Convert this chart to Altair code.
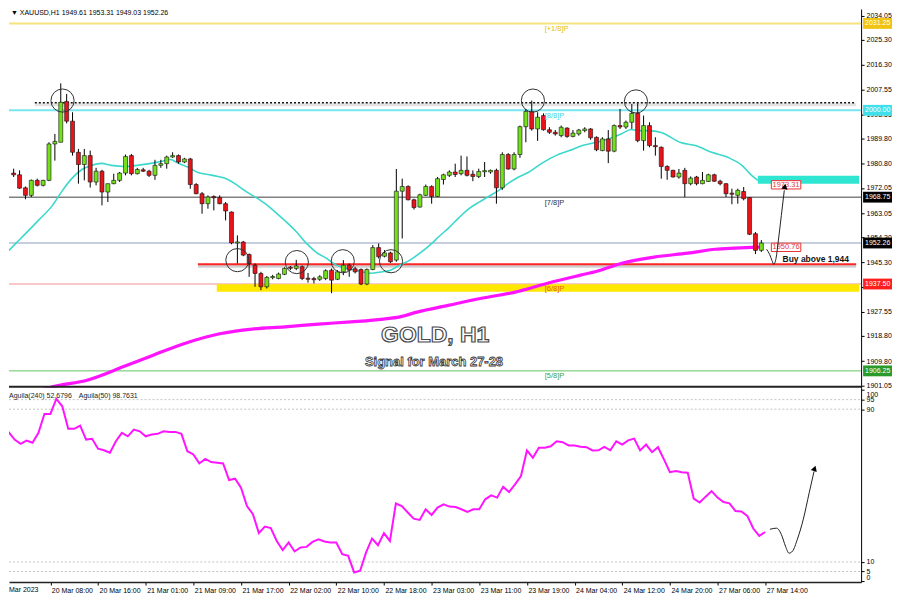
import altair as alt
import pandas as pd

# ---------------- data ----------------
candle_idx = list(range(1, 129))
opens = [1977.4, 1976.8, 1972.1, 1969.4, 1974.8, 1973.0, 1974.8, 1987.9, 1988.5, 2003.2,
         1996.1, 1984.9, 1980.5, 1983.7, 1974.2, 1978.1, 1970.6, 1973.6, 1974.8, 1977.4,
         1983.7, 1977.2, 1978.6, 1978.1, 1976.6, 1980.2, 1980.8, 1983.2, 1983.7, 1981.4,
         1982.5, 1973.3, 1970.0, 1966.4, 1968.9, 1968.6, 1966.4, 1963.4, 1952.3, 1952.6,
         1948.1, 1944.3, 1941.3, 1936.5, 1939.9, 1939.5, 1941.0, 1943.4, 1943.1, 1943.7,
         1939.5, 1939.3, 1939.2, 1939.5, 1942.5, 1939.2, 1941.9, 1944.3, 1943.0, 1942.7,
         1937.5, 1942.7, 1950.6, 1947.5, 1948.7, 1946.1, 1970.9, 1972.6, 1967.8, 1965.2,
         1969.4, 1972.6, 1969.0, 1975.1, 1976.6, 1977.8, 1977.2, 1978.4, 1977.0, 1976.2,
         1978.0, 1977.8, 1978.4, 1972.1, 1984.1, 1978.9, 1984.1, 1994.1, 1999.6, 1993.3,
         1998.1, 1993.0, 1992.1, 1990.9, 1993.6, 1990.6, 1991.5, 1992.7, 1993.3, 1990.3,
         1985.5, 1989.7, 1985.3, 1994.5, 1994.0, 1995.7, 1998.9, 1989.1, 1994.5, 1987.3,
         1986.7, 1979.8, 1978.4, 1976.0, 1978.4, 1973.6, 1976.0, 1973.6, 1974.4, 1976.8,
         1974.5, 1973.6, 1970.2, 1969.4, 1970.8, 1968.6, 1955.6, 1949.61]
highs = [1979.0, 1978.4, 1972.6, 1975.1, 1975.4, 1975.0, 1988.5, 1991.5, 2009.7, 2005.9,
         1999.3, 1986.1, 1986.1, 1985.5, 1979.3, 1978.6, 1973.6, 1977.2, 1977.8, 1984.1,
         1984.3, 1979.3, 1979.3, 1978.6, 1982.2, 1982.2, 1983.7, 1984.9, 1984.1, 1982.9,
         1982.9, 1973.8, 1970.6, 1969.4, 1969.4, 1969.4, 1967.0, 1963.6, 1955.0, 1953.0,
         1948.5, 1944.9, 1941.9, 1940.4, 1940.8, 1941.6, 1943.5, 1944.0, 1946.2, 1944.2,
         1941.5, 1940.1, 1940.7, 1942.8, 1943.1, 1942.5, 1946.1, 1944.9, 1943.7, 1943.1,
         1943.1, 1951.5, 1952.1, 1949.7, 1949.1, 1978.9, 1975.4, 1973.0, 1968.2, 1970.0,
         1973.3, 1973.0, 1976.0, 1977.2, 1978.4, 1980.8, 1983.7, 1983.4, 1978.4, 1979.0,
         1981.4, 1978.7, 1979.0, 1984.9, 1984.6, 1984.9, 1994.5, 2000.5, 2003.5, 1999.3,
         1998.9, 1993.9, 1992.9, 1994.5, 1993.9, 1992.9, 1993.3, 1993.9, 1993.6, 1990.6,
         1990.3, 1992.9, 1994.9, 2000.5, 1996.3, 2002.3, 2002.5, 1998.1, 1995.7, 1990.3,
         1987.0, 1980.2, 1978.6, 1978.9, 1979.3, 1976.2, 1976.4, 1977.8, 1977.2, 1977.2,
         1975.0, 1973.8, 1971.8, 1971.8, 1972.4, 1968.8, 1956.2, 1953.31]
lows = [1976.0, 1971.8, 1968.0, 1968.8, 1972.6, 1972.6, 1974.5, 1981.9, 1988.5, 1995.3,
        1983.7, 1973.6, 1974.8, 1972.2, 1973.0, 1965.8, 1967.0, 1973.4, 1974.2, 1976.6,
        1976.6, 1976.9, 1977.8, 1976.0, 1975.0, 1979.3, 1979.0, 1982.9, 1980.8, 1981.0,
        1971.8, 1969.8, 1962.8, 1964.6, 1964.0, 1966.2, 1960.4, 1951.8, 1944.9, 1947.5,
        1940.1, 1936.5, 1935.3, 1935.9, 1939.2, 1939.2, 1940.7, 1942.5, 1942.5, 1938.9,
        1938.0, 1937.7, 1938.6, 1938.9, 1934.2, 1938.9, 1940.7, 1940.1, 1941.3, 1937.1,
        1937.1, 1942.5, 1946.7, 1947.1, 1945.1, 1945.5, 1953.9, 1967.6, 1964.3, 1965.0,
        1969.2, 1966.4, 1968.8, 1973.3, 1976.0, 1976.0, 1976.6, 1976.2, 1974.5, 1975.6,
        1976.0, 1977.2, 1966.4, 1971.4, 1978.6, 1978.4, 1982.9, 1988.5, 1992.7, 1989.0,
        1992.7, 1991.5, 1990.9, 1990.3, 1990.1, 1990.3, 1990.9, 1992.1, 1989.4, 1985.3,
        1985.3, 1981.0, 1984.9, 1993.3, 1993.3, 1993.3, 1988.5, 1985.5, 1986.7, 1983.7,
        1975.4, 1975.0, 1975.8, 1975.4, 1968.8, 1973.0, 1973.0, 1973.4, 1974.2, 1974.2,
        1973.0, 1968.8, 1966.2, 1966.4, 1967.6, 1955.1, 1948.3, 1949.03]
closes = [1976.8, 1972.0, 1969.4, 1974.8, 1973.0, 1974.8, 1987.9, 1988.8, 2002.9, 1996.1,
          1984.9, 1980.5, 1983.7, 1974.2, 1978.1, 1970.6, 1973.6, 1974.8, 1977.4, 1983.4,
          1977.2, 1978.7, 1978.1, 1976.6, 1980.2, 1980.8, 1983.2, 1983.7, 1981.4, 1982.5,
          1973.3, 1970.0, 1966.4, 1968.8, 1968.6, 1966.4, 1963.8, 1952.3, 1952.6, 1947.9,
          1944.9, 1941.3, 1936.5, 1939.9, 1940.1, 1941.1, 1943.1, 1943.3, 1944.0, 1939.5,
          1939.3, 1939.2, 1940.1, 1942.3, 1938.9, 1941.9, 1944.3, 1942.5, 1941.9, 1937.5,
          1942.7, 1950.6, 1947.3, 1948.7, 1945.5, 1970.9, 1972.6, 1967.8, 1965.0, 1969.6,
          1972.6, 1969.0, 1975.4, 1976.8, 1977.8, 1976.9, 1978.4, 1976.6, 1976.2, 1978.0,
          1978.2, 1978.4, 1972.1, 1984.1, 1978.9, 1984.1, 1994.1, 1999.6, 1993.3, 1997.5,
          1993.0, 1992.1, 1991.5, 1993.9, 1990.6, 1991.8, 1992.9, 1993.3, 1990.1, 1985.8,
          1989.7, 1985.3, 1994.5, 1994.0, 1995.7, 1998.9, 1989.1, 1994.5, 1987.3, 1986.9,
          1979.8, 1978.4, 1976.0, 1977.4, 1973.6, 1975.6, 1973.6, 1974.8, 1976.8, 1974.5,
          1973.6, 1970.0, 1969.8, 1971.2, 1968.2, 1955.4, 1949.6, 1952.26]

# fast moving average (turquoise)
ma_fast_idx = [-0.3, 1.4, 3.1, 5.2, 7.6, 9.3, 10.9, 12.6, 14.3, 15.9, 17.6, 19.8, 22.0, 24.3,
               26.0, 27.7, 28.7, 29.8, 30.7, 32.3, 34.0, 35.7, 37.4, 39.0, 40.7, 42.4, 44.1,
               45.7, 47.4, 49.1, 50.7, 52.4, 54.1, 55.8, 57.4, 59.1, 61.6, 63.3, 65.0, 66.6,
               68.3, 70.0, 71.7, 73.3, 75.0, 76.7, 78.4, 80.0, 81.7, 83.4, 85.0, 86.7, 88.4,
               90.9, 93.1, 95.4, 97.6, 99.8, 102.1, 104.3, 105.9, 107.1, 108.8, 111.0, 114.3,
               116.8, 119.7, 122.4, 124.7, 126.4, 127.4]
ma_fast_val = [1948.5, 1952.2, 1955.8, 1960.4, 1965.8, 1971.2, 1975.5, 1978.7, 1980.2, 1980.9,
               1980.2, 1979.8, 1980.2, 1980.9, 1981.6, 1982.3, 1981.2, 1980.2, 1979.5, 1977.6,
               1976.9, 1976.2, 1975.1, 1973.0, 1970.5, 1968.3, 1965.8, 1962.9, 1959.7, 1956.1,
               1952.2, 1948.9, 1946.8, 1944.3, 1943.2, 1942.5, 1941.4, 1941.8, 1942.5, 1944.3,
               1946.1, 1948.6, 1951.5, 1954.7, 1957.9, 1961.5, 1964.7, 1966.9, 1969.0, 1971.2,
               1973.7, 1975.9, 1977.6, 1981.2, 1983.7, 1985.5, 1987.3, 1988.4, 1989.8, 1991.6,
               1993.1, 1992.7, 1992.7, 1992.0, 1988.4, 1987.3, 1984.8, 1983.0, 1980.2, 1976.5,
               1974.8]

# slow moving average (magenta)
ma_slow_idx = [3.0, 7.6, 13.6, 19.8, 24.8, 30.3, 36.0, 41.5, 47.1, 52.8, 58.3, 63.8, 66.6,
               69.5, 75.0, 80.5, 86.2, 91.7, 97.3, 100.1, 104.3, 109.8, 115.5, 120.2, 123.5, 128.0]
ma_slow_val = [1897.5, 1900.5, 1903.0, 1907.9, 1912.0, 1916.3, 1919.6, 1921.3, 1922.1, 1923.1,
               1923.9, 1924.9, 1925.7, 1927.4, 1929.9, 1932.4, 1934.6, 1937.8, 1940.7, 1942.1,
               1945.0, 1947.2, 1948.6, 1950.0, 1950.4, 1950.8]

# oscillator (Aguila) one value per bar, bars 0..128
osc_vals = [73.2, 77.9, 74.1, 71.9, 73.6, 72.4, 77.6, 87.5, 87.5, 95.4,
            91.5, 79.7, 79.7, 81.4, 74.1, 74.5, 69.3, 68.5, 67.2, 73.2,
            77.6, 75.8, 79.3, 78.4, 75.8, 76.7, 77.1, 78.4, 78.1, 78.1,
            77.1, 68.0, 66.3, 61.6, 64.0, 62.3, 62.0, 61.6, 52.9, 53.6,
            48.9, 39.3, 35.0, 25.1, 28.5, 27.7, 21.0, 16.2, 20.2, 15.5,
            17.6, 17.9, 20.5, 21.9, 20.7, 20.2, 20.2, 14.1, 13.2, 4.5,
            5.4, 15.0, 22.3, 18.8, 25.1, 21.0, 40.6, 39.3, 35.9, 32.7,
            32.0, 37.6, 34.6, 38.5, 40.2, 39.0,
            38.8, 37.6, 36.2, 37.6, 37.6, 42.8, 44.9, 43.7, 49.4, 46.6,
            50.6, 55.0, 68.4, 64.6, 69.8, 69.8, 70.6, 73.2, 72.7, 71.0,
            71.0, 70.3, 70.1, 68.4, 68.5, 70.3, 68.5, 73.2, 71.5, 73.7,
            74.6, 68.4, 71.5, 67.5, 70.1, 63.7, 57.0, 57.6, 57.0, 56.7,
            43.2, 41.1, 44.2, 47.1, 43.7, 41.4, 40.7, 36.7, 36.4, 34.1,
            27.5, 23.6, 25.7]

time_tick_idx = [8, 16, 24, 32, 40, 48, 56, 64, 72, 80, 88, 96, 104, 112, 120, 128]
time_labels = ["20 Mar 08:00", "20 Mar 16:00", "21 Mar 01:00", "21 Mar 09:00",
               "21 Mar 17:00", "22 Mar 02:00", "22 Mar 10:00", "22 Mar 18:00",
               "23 Mar 03:00", "23 Mar 11:00", "23 Mar 19:00", "24 Mar 04:00",
               "24 Mar 12:00", "24 Mar 20:00", "27 Mar 06:00", "27 Mar 14:00"]

price_ticks = [2034.05, 2025.30, 2016.30, 2007.55, 1998.55, 1989.80, 1980.80, 1972.05,
               1963.05, 1954.30, 1945.30, 1936.55, 1927.55, 1918.80, 1909.80, 1901.05]
osc_ticks = [100, 95, 90, 10, 5, 0]
osc_levels = [95, 90, 10, 5]

level_prices = [2031.25, 2000.00, 1968.75, 1952.26, 1937.50, 1906.25]
level_colors = ["#f4e27c", "#78e6f0", "#808080", "#8e9cbe", "#f29090", "#66c266"]
level_widths = [2, 2, 1.5, 1, 1, 1]
box_bg = ["#f0c412", "#3fe0ea", "#000000", "#000000", "#ff1e1e", "#2a9a2a"]
box_fg = ["#ffffff", "#ffffff", "#ffffff", "#ffffff", "#ffffff", "#ffffff"]
box_text = ["2031.25", "2000.00", "1968.75", "1952.26", "1937.50", "1906.25"]

murrey_text = ["[+1/8]P", "[8/8]P", "[7/8]P", "[6/8]P", "[5/8]P"]
murrey_price = [2029.3, 1998.0, 1966.8, 1935.6, 1904.4]
murrey_color = ["#e6c000", "#38d6e6", "#333333", "#e85a2a", "#3fa03f"]

circle_idx = [9.3, 89.2, 106.7, 39.0, 49.1, 56.9, 65.1]
circle_price = [2003.5, 2003.5, 2003.2, 1946.1, 1945.4, 1945.7, 1945.7]

arrow_idx = [128.9, 129.4, 129.8, 130.1, 130.5, 130.9, 131.4, 131.9]
arrow_price = [1950.0, 1948.2, 1946.0, 1944.6, 1946.8, 1953.3, 1962.2, 1971.2]
osc_arrow_idx = [128.8, 129.9, 130.7, 131.4, 132.0, 132.6, 133.4, 134.4, 135.4, 136.2]
osc_arrow_val = [27.1, 27.7, 24.5, 18.3, 14.6, 15.7, 21.9, 32.4, 46.4, 57.4]

# ---------------- scales / axes ----------------
W, H1, H2 = 855, 380, 195
FONT = "Liberation Sans"
xs = alt.Scale(domain=[1.054, 144.1], nice=False, zero=False)
ys = alt.Scale(domain=[1900.2, 2036.45], nice=False, zero=False)
yi = alt.Scale(domain=[-0.52, 101.25], nice=False, zero=False)

main_axis = alt.Axis(orient="right", values=price_ticks, format=".2f", title=None,
                     labelFont=FONT, labelFontSize=7, labelColor="black", tickColor="black",
                     tickSize=3, labelPadding=2, domainColor="black", domainWidth=1,
                     grid=False, labelOverlap=False, labelFlush=False, labelBound=False)
label_arr = "[" + ",".join("'%s'" % s for s in time_labels) + "]"
time_axis = alt.Axis(orient="bottom", values=time_tick_idx,
                     labelExpr=label_arr + "[round(datum.value / 8) - 1]",
                     labelAlign="left", labelBaseline="top", labelFont=FONT, labelFontSize=7,
                     labelColor="black", tickSize=3, tickColor="black", domainColor="#222222",
                     domainWidth=1.5, labelPadding=1, title=None, grid=False, labelOverlap=False,
                     labelFlush=False, labelBound=False, labelOffset=1)
osc_axis = alt.Axis(orient="right", values=osc_ticks, title=None, labelFont=FONT, labelFontSize=7,
                    labelColor="black", tickColor="black", tickSize=3, labelPadding=2,
                    domainColor="black", domainWidth=1, grid=False, labelOverlap=False,
                    labelFlush=False, labelBound=False,
                    labelOffset={"condition": [{"test": "datum.value >= 100", "value": 4},
                                               {"test": "datum.value <= 0", "value": -4}],
                                 "value": 0})


def X(f):
    return alt.X(f, type="quantitative", scale=xs, axis=None)


def XT(f):
    return alt.X(f, type="quantitative", scale=xs, axis=time_axis)


def Y(f):
    return alt.Y(f, type="quantitative", scale=ys, axis=main_axis)


def YI(f):
    return alt.Y(f, type="quantitative", scale=yi, axis=osc_axis)


one = pd.DataFrame({"a": [0]})

# candles
cdf = pd.DataFrame({"idx": candle_idx, "o": opens, "h": highs, "l": lows, "c": closes})
cdf["col"] = ["#74e01c" if c >= o else "#e8141a" for o, c in zip(cdf.o, cdf.c)]
mid = (cdf.o + cdf.c) / 2
top = cdf[["o", "c"]].max(axis=1)
bot = cdf[["o", "c"]].min(axis=1)
small = (top - bot) < 0.4
cdf["top"] = top.where(~small, mid + 0.2)
cdf["bot"] = bot.where(~small, mid - 0.2)

levels = pd.DataFrame({"p": level_prices, "col": level_colors, "w": level_widths})
level_layer = alt.Chart(levels).mark_rule().encode(
    y=Y("p"), x=alt.value(0), x2=alt.value(W),
    color=alt.Color("col:N", scale=None), strokeWidth=alt.StrokeWidth("w:Q", scale=None))

band = alt.Chart(pd.DataFrame({"x1": [35.5], "x2": [144.6], "y1": [1934.7], "y2": [1937.4]})
                 ).mark_rect(color="#ffe800").encode(x=X("x1"), x2=alt.X2("x2"), y=Y("y1"), y2=alt.Y2("y2"))

support_df = pd.DataFrame({"x1": [32.3], "x2": [144.1], "p": [1944.6], "ps": [1943.9]})
support_shadow = alt.Chart(support_df).mark_rule(color="#b0b0b0", strokeWidth=3, opacity=0.6).encode(
    x=X("x1"), x2=alt.X2("x2"), y=Y("ps"))
support = alt.Chart(support_df).mark_rule(color="#ff2626", strokeWidth=2).encode(
    x=X("x1"), x2=alt.X2("x2"), y=Y("p"))

res_df = pd.DataFrame({"x1": [4.6], "x2": [144.1], "p": [2002.7], "ps": [2002.0]})
res_shadow = alt.Chart(res_df).mark_rule(color="#c8c8c8", strokeWidth=3, opacity=0.5).encode(
    x=X("x1"), x2=alt.X2("x2"), y=Y("ps"))
resistance = alt.Chart(res_df).mark_rule(color="#111111", strokeWidth=1.5, strokeDash=[2, 2]).encode(
    x=X("x1"), x2=alt.X2("x2"), y=Y("p"))

fast = alt.Chart(pd.DataFrame({"i": ma_fast_idx, "v": ma_fast_val})).mark_line(
    color="#3cd8cc", strokeWidth=1.6, clip=True, interpolate="monotone").encode(x=X("i"), y=Y("v"))
slow = alt.Chart(pd.DataFrame({"i": ma_slow_idx, "v": ma_slow_val})).mark_line(
    color="#ff14ff", strokeWidth=3.2, clip=True, interpolate="monotone").encode(x=X("i"), y=Y("v"))

wicks = alt.Chart(cdf).mark_rule(color="black", strokeWidth=1, clip=True).encode(
    x=X("idx"), y=Y("l"), y2=alt.Y2("h"))
bodies = alt.Chart(cdf).mark_bar(size=4, stroke="#111111", strokeWidth=0.6, clip=True).encode(
    x=X("idx"), y=Y("bot"), y2=alt.Y2("top"), color=alt.Color("col:N", scale=None))

circles = alt.Chart(pd.DataFrame({"i": circle_idx, "p": circle_price})).mark_point(
    shape="circle", size=540, filled=False, color="#333333", strokeWidth=1, opacity=1).encode(
    x=X("i"), y=Y("p"))

cyan_box = alt.Chart(pd.DataFrame({"x1": [127.4], "x2": [144.6], "y1": [1973.6], "y2": [1976.5]})
                     ).mark_rect(color="#2ee6d2").encode(x=X("x1"), x2=alt.X2("x2"), y=Y("y1"), y2=alt.Y2("y2"))

tags = pd.DataFrame({"x1": [129.7, 129.7], "x2": [134.7, 134.7], "p": [1973.2, 1950.7],
                     "t": ["1973.31", "1950.76"]})
tags["lo"] = tags.p - 1.5
tags["hi"] = tags.p + 1.5
tags["xc"] = (tags.x1 + tags.x2) / 2
tag_rect = alt.Chart(tags).mark_rect(fill="white", stroke="#ee3030", strokeWidth=1).encode(
    x=X("x1"), x2=alt.X2("x2"), y=Y("lo"), y2=alt.Y2("hi"))
tag_text = alt.Chart(tags).mark_text(font=FONT, fontSize=7.5, color="#e03a3a").encode(
    x=X("xc"), y=Y("p"), text="t:N")

arrow = alt.Chart(pd.DataFrame({"i": arrow_idx, "p": arrow_price})).mark_line(
    color="#222222", strokeWidth=1, interpolate="monotone").encode(x=X("i"), y=Y("p"))
arrow_head = alt.Chart(pd.DataFrame({"i": [132.0], "p": [1972.6]})).mark_point(
    shape="triangle-up", filled=True, size=40, color="black", angle=10, opacity=1).encode(x=X("i"), y=Y("p"))

boxes = pd.DataFrame({"p": level_prices, "bg": box_bg, "fg": box_fg, "t": box_text})
boxes["lo"] = boxes.p - 1.95
boxes["hi"] = boxes.p + 1.95
box_rect = alt.Chart(boxes).mark_rect().encode(
    x=alt.value(857), x2=alt.value(886), y=Y("lo"), y2=alt.Y2("hi"),
    color=alt.Color("bg:N", scale=None))
box_text_l = alt.Chart(boxes).mark_text(font=FONT, fontSize=7, align="left", baseline="middle").encode(
    x=alt.value(859), y=Y("p"), text="t:N", color=alt.Color("fg:N", scale=None))

mur = pd.DataFrame({"t": murrey_text, "p": murrey_price, "col": murrey_color, "i": [91.2] * 5})
mur_text = alt.Chart(mur).mark_text(font=FONT, fontSize=7.5, align="left", baseline="middle").encode(
    x=X("i"), y=Y("p"), text="t:N", color=alt.Color("col:N", scale=None))

buy = alt.Chart(pd.DataFrame({"i": [131.6], "p": [1946.5], "t": ["Buy above 1,944"]})).mark_text(
    font=FONT, fontSize=8.5, fontWeight="bold", align="left", baseline="middle", color="#111111").encode(
    x=X("i"), y=Y("p"), text="t:N")

gold = alt.Chart(pd.DataFrame({"i": [72.6], "p": [1919.2], "t": ["GOLD, H1"]})).mark_text(
    font=FONT, fontWeight="bold", fontSize=23, color="white", stroke="#4a4a4a", strokeWidth=1.2,
    baseline="middle").encode(x=X("i"), y=Y("p"), text="t:N")
signal = alt.Chart(pd.DataFrame({"i": [72.4], "p": [1909.6], "t": ["Signal for March 27-28"]})).mark_text(
    font=FONT, fontWeight="bold", fontSize=13, color="white", stroke="#3a3a3a", strokeWidth=0.8,
    baseline="middle").encode(x=X("i"), y=Y("p"), text="t:N")

header = alt.Chart(one).mark_text(font=FONT, fontSize=7, align="left", baseline="top",
                                   color="black",
                                   text="\u25bc XAUUSD,H1  1949.61 1953.31 1949.03 1952.26").encode(
    x=alt.value(2), y=alt.value(0))

sep = alt.Chart(one).mark_rule(color="#222222", strokeWidth=2).encode(
    x=alt.value(0), x2=alt.value(W), y=alt.value(H1 - 1))

main = alt.layer(level_layer, band, support_shadow, support, res_shadow, resistance,
                 fast, slow, wicks, bodies, circles, cyan_box, tag_rect, tag_text,
                 arrow, arrow_head, box_rect, box_text_l, mur_text, buy,
                 gold, signal, header, sep).properties(width=W, height=H1)

# ---------------- oscillator panel ----------------
osc_lv = alt.Chart(pd.DataFrame({"v": osc_levels})).mark_rule(
    color="#c4c4c4", strokeWidth=1, strokeDash=[2, 2]).encode(
    y=YI("v"), x=alt.value(0), x2=alt.value(W))
osc_df = pd.DataFrame({"i": list(range(len(osc_vals))), "v": osc_vals})
osc_line = alt.Chart(osc_df).mark_line(color="#ff14ff", strokeWidth=2, clip=True).encode(
    x=XT("i"), y=YI("v"))
osc_arrow = alt.Chart(pd.DataFrame({"i": osc_arrow_idx, "v": osc_arrow_val})).mark_line(
    color="#222222", strokeWidth=1, interpolate="monotone").encode(x=XT("i"), y=YI("v"))
osc_head = alt.Chart(pd.DataFrame({"i": [136.3], "v": [59.0]})).mark_point(
    shape="triangle-up", filled=True, size=40, color="black", angle=18, opacity=1).encode(
    x=XT("i"), y=YI("v"))
osc_lab1 = alt.Chart(one).mark_text(font=FONT, fontSize=7, align="left", baseline="middle",
                                     color="#222222", text="Aguila(240) 52.6796").encode(
    x=alt.value(0), y=alt.value(8))
osc_lab2 = alt.Chart(one).mark_text(font=FONT, fontSize=7, align="left", baseline="middle",
                                     color="#222222", text="Aguila(50) 98.7631").encode(
    x=alt.value(70), y=alt.value(8))
first_date = alt.Chart(one).mark_text(font=FONT, fontSize=7, align="left", baseline="top",
                                       color="black", text="Mar 2023").encode(
    x=alt.value(0), y=alt.value(H2 + 4))

osc = alt.layer(osc_lv, osc_line, osc_arrow, osc_head, osc_lab1, osc_lab2, first_date
                ).properties(width=W, height=H2)

chart = alt.vconcat(main, osc, spacing=0, bounds="flush").properties(
    padding=0, background="white").configure_view(stroke=None)

chart.save("out.html", embed_options={"renderer": "svg", "actions": False})
